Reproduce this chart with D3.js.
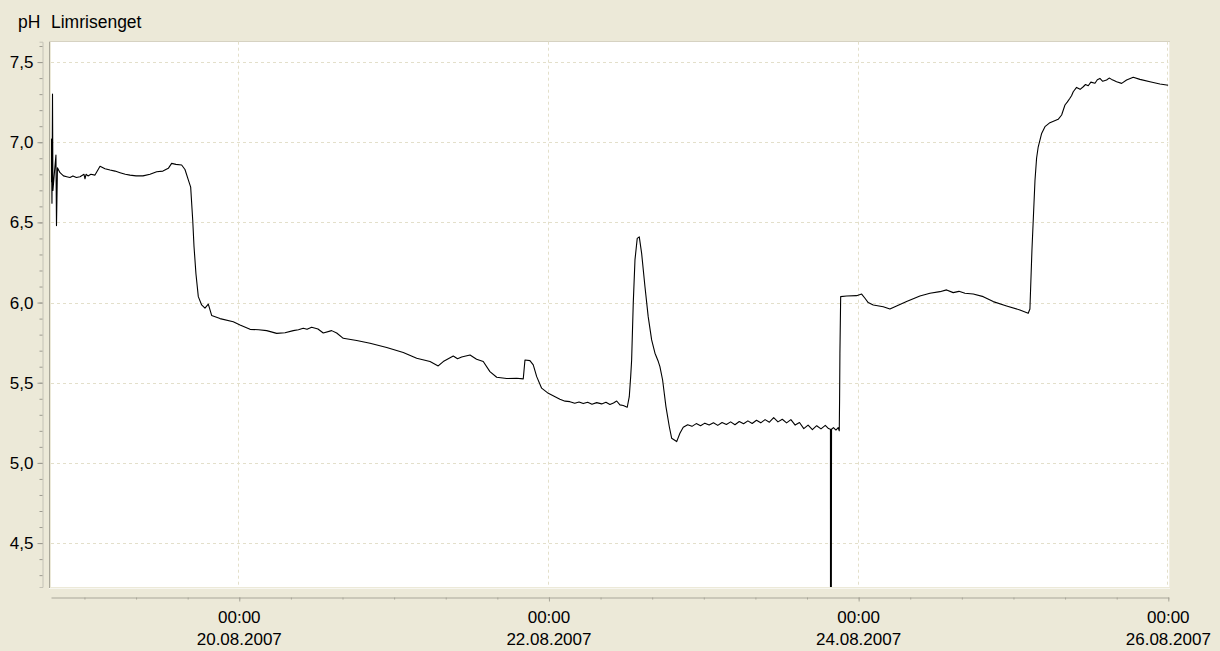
<!DOCTYPE html>
<html><head><meta charset="utf-8">
<script src="https://cdn.jsdelivr.net/npm/d3@7"></script>
<style>
body{margin:0;background:#ECE9D8;}
svg{display:block;font-family:"Liberation Sans",Arial,sans-serif;}
</style>
</head><body><svg id="chart" width="1220" height="651"></svg>
<script>
const unitLabel = "pH";
const seriesName = "Limrisenget";
const times = [
"18.08.2007 18:49","18.08.2007 18:53","18.08.2007 18:58","18.08.2007 19:03","18.08.2007 19:07","18.08.2007 19:22","18.08.2007 19:35","18.08.2007 19:40","18.08.2007 19:49","18.08.2007 20:13",
"18.08.2007 20:45","18.08.2007 21:15","18.08.2007 21:45","18.08.2007 22:13","18.08.2007 22:45","18.08.2007 23:19","18.08.2007 23:56","19.08.2007 00:05","19.08.2007 00:15","19.08.2007 00:33",
"19.08.2007 01:00","19.08.2007 01:38","19.08.2007 02:25","19.08.2007 03:11","19.08.2007 03:58","19.08.2007 04:45","19.08.2007 05:31","19.08.2007 06:20","19.08.2007 07:04","19.08.2007 08:00",
"19.08.2007 09:04","19.08.2007 10:10","19.08.2007 11:12","19.08.2007 12:10","19.08.2007 13:00","19.08.2007 13:31","19.08.2007 14:11","19.08.2007 15:04","19.08.2007 15:35","19.08.2007 16:06",
"19.08.2007 16:28","19.08.2007 16:47","19.08.2007 16:59","19.08.2007 17:17","19.08.2007 17:39","19.08.2007 18:10","19.08.2007 18:41","19.08.2007 19:12","19.08.2007 19:43","19.08.2007 21:01",
"19.08.2007 23:04","20.08.2007 00:07","20.08.2007 01:40","20.08.2007 03:00","20.08.2007 04:15","20.08.2007 05:48","20.08.2007 07:05","20.08.2007 08:22","20.08.2007 09:10","20.08.2007 09:55",
"20.08.2007 10:30","20.08.2007 11:13","20.08.2007 12:12","20.08.2007 13:01","20.08.2007 14:19","20.08.2007 15:06","20.08.2007 16:07","20.08.2007 18:12","20.08.2007 20:16","20.08.2007 22:51",
"21.08.2007 01:25","21.08.2007 03:30","21.08.2007 05:34","21.08.2007 06:50","21.08.2007 07:37","21.08.2007 09:10","21.08.2007 09:50","21.08.2007 10:28","21.08.2007 11:46","21.08.2007 12:47",
"21.08.2007 13:49","21.08.2007 14:51","21.08.2007 15:54","21.08.2007 17:27","21.08.2007 18:59","21.08.2007 20:01","21.08.2007 20:17","21.08.2007 21:03","21.08.2007 21:34","21.08.2007 22:06",
"21.08.2007 22:52","21.08.2007 23:54","22.08.2007 01:42","22.08.2007 02:30","22.08.2007 03:15","22.08.2007 04:00","22.08.2007 04:40","22.08.2007 05:19","22.08.2007 06:00","22.08.2007 06:40",
"22.08.2007 07:24","22.08.2007 08:10","22.08.2007 08:50","22.08.2007 09:27","22.08.2007 10:00","22.08.2007 10:30","22.08.2007 11:00","22.08.2007 11:31","22.08.2007 12:08","22.08.2007 12:27",
"22.08.2007 12:40","22.08.2007 12:49","22.08.2007 13:04","22.08.2007 13:20","22.08.2007 13:41","22.08.2007 14:00","22.08.2007 14:22","22.08.2007 14:53","22.08.2007 15:23","22.08.2007 15:55",
"22.08.2007 16:26","22.08.2007 16:57","22.08.2007 17:12","22.08.2007 17:37","22.08.2007 18:08","22.08.2007 18:39","22.08.2007 19:01","22.08.2007 19:48","22.08.2007 20:18","22.08.2007 20:49",
"22.08.2007 21:30","22.08.2007 22:10","22.08.2007 22:50","22.08.2007 23:30","23.08.2007 00:10","23.08.2007 00:50","23.08.2007 01:30","23.08.2007 02:10","23.08.2007 02:50","23.08.2007 03:30",
"23.08.2007 04:10","23.08.2007 04:50","23.08.2007 05:30","23.08.2007 06:10","23.08.2007 06:50","23.08.2007 07:30","23.08.2007 08:10","23.08.2007 08:50","23.08.2007 09:30","23.08.2007 10:10",
"23.08.2007 10:50","23.08.2007 11:30","23.08.2007 12:10","23.08.2007 12:50","23.08.2007 13:30","23.08.2007 14:10","23.08.2007 14:50","23.08.2007 15:30","23.08.2007 16:10","23.08.2007 16:50",
"23.08.2007 17:30","23.08.2007 18:10","23.08.2007 18:50","23.08.2007 19:20","23.08.2007 19:38","23.08.2007 19:39","23.08.2007 19:43","23.08.2007 19:44","23.08.2007 19:48","23.08.2007 20:06","23.08.2007 20:29",
"23.08.2007 20:50","23.08.2007 21:00","23.08.2007 21:03","23.08.2007 21:06","23.08.2007 21:13","23.08.2007 22:08","23.08.2007 23:41","24.08.2007 00:28","24.08.2007 00:59","24.08.2007 01:29",
"24.08.2007 02:16","24.08.2007 03:49","24.08.2007 04:51","24.08.2007 05:53","24.08.2007 07:26","24.08.2007 09:30","24.08.2007 11:03","24.08.2007 12:36","24.08.2007 13:38","24.08.2007 14:40",
"24.08.2007 15:33","24.08.2007 16:29","24.08.2007 17:46","24.08.2007 19:19","24.08.2007 20:52","24.08.2007 22:56","25.08.2007 01:00","25.08.2007 02:17","25.08.2007 02:33","25.08.2007 02:52",
"25.08.2007 03:20","25.08.2007 03:35","25.08.2007 03:50","25.08.2007 04:22","25.08.2007 04:53","25.08.2007 05:39","25.08.2007 06:56","25.08.2007 07:28","25.08.2007 07:59","25.08.2007 08:20",
"25.08.2007 08:45","25.08.2007 09:00","25.08.2007 09:16","25.08.2007 09:47","25.08.2007 10:20","25.08.2007 10:49","25.08.2007 11:10","25.08.2007 11:35","25.08.2007 12:00","25.08.2007 12:38",
"25.08.2007 13:00","25.08.2007 13:24","25.08.2007 13:50","25.08.2007 14:26","25.08.2007 14:50","25.08.2007 15:13","25.08.2007 15:35","25.08.2007 15:59","25.08.2007 16:46","25.08.2007 17:32",
"25.08.2007 18:34","25.08.2007 19:36","25.08.2007 21:09","25.08.2007 22:42","25.08.2007 23:44","26.08.2007 00:00"
];
const phValues = [
6.75,7.02,6.62,7.30,6.70,6.82,6.92,6.48,6.84,6.81,
6.79,6.785,6.78,6.79,6.78,6.785,6.80,6.772,6.80,6.79,
6.80,6.795,6.85,6.835,6.827,6.82,6.81,6.80,6.795,6.79,
6.79,6.80,6.816,6.82,6.837,6.868,6.862,6.858,6.83,6.765,
6.72,6.515,6.35,6.18,6.037,5.985,5.965,5.99,5.92,5.90,
5.88,5.86,5.833,5.83,5.825,5.808,5.812,5.825,5.83,5.84,
5.833,5.846,5.835,5.81,5.825,5.81,5.777,5.763,5.746,5.72,
5.688,5.653,5.632,5.605,5.632,5.667,5.65,5.66,5.673,5.647,
5.632,5.569,5.534,5.526,5.528,5.524,5.642,5.638,5.611,5.538,
5.466,5.434,5.397,5.385,5.382,5.372,5.380,5.370,5.378,5.366,
5.376,5.368,5.378,5.364,5.374,5.386,5.362,5.358,5.347,5.413,
5.538,5.642,5.995,6.266,6.40,6.41,6.307,6.099,5.912,5.767,
5.684,5.632,5.60,5.517,5.351,5.227,5.154,5.133,5.185,5.222,
5.238,5.228,5.245,5.232,5.248,5.236,5.250,5.234,5.252,5.240,
5.256,5.238,5.258,5.244,5.262,5.246,5.266,5.250,5.270,5.254,
5.282,5.256,5.272,5.250,5.270,5.236,5.252,5.214,5.236,5.208,
5.232,5.212,5.234,5.214,5.21,3.0,5.1,3.0,5.21,5.22,5.205,
5.22,5.20,5.40,5.68,6.037,6.041,6.043,6.053,6.027,6.0,
5.985,5.974,5.96,5.979,6.006,6.041,6.058,6.068,6.079,6.062,
6.07,6.058,6.053,6.037,6.006,5.979,5.954,5.933,5.96,6.33,
6.76,6.90,6.97,7.055,7.097,7.122,7.143,7.17,7.232,7.25,
7.274,7.29,7.315,7.342,7.33,7.346,7.36,7.352,7.375,7.368,
7.39,7.398,7.38,7.388,7.40,7.392,7.385,7.377,7.367,7.388,
7.405,7.392,7.377,7.363,7.357,7.355
];
const yTickLabels = [4.5,5.0,5.5,6.0,6.5,7.0,7.5];
const xLabelTimes = ["20.08.2007 00:00","22.08.2007 00:00","24.08.2007 00:00","26.08.2007 00:00"];
const xDomain = ["18.08.2007 18:49","26.08.2007 00:00"];
const yDomain = [4.226, 7.627];

const parse = d3.timeParse("%d.%m.%Y %H:%M");
const data = times.map((t,i)=>({t:parse(t), v:phValues[i]}));

const L=51, R=1168.3, T=41.7, B=587;
const x = d3.scaleTime().domain(xDomain.map(parse)).range([L,R]);
const y = d3.scaleLinear().domain(yDomain).range([B,T]);

const svg = d3.select("#chart");
svg.append("rect").attr("width",1220).attr("height",651).attr("fill","#ECE9D8");

// title
svg.append("text").attr("x",18).attr("y",28).attr("font-size",17.5).attr("fill","#000").text(unitLabel);
svg.append("text").attr("x",51).attr("y",28).attr("font-size",17.5).attr("fill","#000").text(seriesName);

// plot area
svg.append("rect").attr("x",L).attr("y",T).attr("width",R-L+1).attr("height",B-T).attr("fill","#fff");
svg.append("line").attr("x1",49.5).attr("x2",49.5).attr("y1",41).attr("y2",589).attr("stroke","#a8a699");
svg.append("line").attr("x1",49).attr("x2",1170).attr("y1",41.5).attr("y2",41.5).attr("stroke","#d6d2c2");
svg.append("line").attr("x1",49).attr("x2",1170).attr("y1",588.5).attr("y2",588.5).attr("stroke","#f7f6f0");

// gridlines
const grid = svg.append("g").attr("stroke","#e3dfca").attr("stroke-dasharray","3,3");
yTickLabels.forEach(v=>{
  grid.append("line").attr("x1",L).attr("x2",R).attr("y1",Math.round(y(v))+0.5).attr("y2",Math.round(y(v))+0.5);
});
xLabelTimes.map(parse).forEach(d=>{
  grid.append("line").attr("x1",Math.round(x(d))-0.5).attr("x2",Math.round(x(d))-0.5).attr("y1",T).attr("y2",B);
});

// line
svg.append("clipPath").attr("id","clip").append("rect").attr("x",L).attr("y",T).attr("width",R-L).attr("height",B-T);
const line = d3.line().x(d=>x(d.t)).y(d=>y(d.v));
svg.append("path").datum(data).attr("clip-path","url(#clip)")
  .attr("fill","none").attr("stroke","#000").attr("stroke-width",1.1).attr("stroke-linejoin","round").attr("d",line);

// y axis
const fmt = d3.formatLocale({decimal:",",thousands:".",grouping:[3],currency:["",""]}).format(".1f");
const yMinor = d3.range(43,77).map(i=>i/10);
const yAxisG = svg.append("g").attr("transform","translate(42.5,0)");
yAxisG.call(d3.axisLeft(y).tickValues(yMinor).tickSize(3).tickFormat(""));
yAxisG.selectAll("path").attr("stroke","#c4c2b6");
yAxisG.selectAll("line").attr("stroke","#9c9a90");
const yMajG = svg.append("g").attr("transform","translate(42.5,0)");
yMajG.call(d3.axisLeft(y).tickValues(yTickLabels).tickSize(5).tickPadding(4).tickFormat(fmt));
yMajG.select(".domain").remove();
yMajG.selectAll("line").attr("stroke","#9c9a90");
yMajG.selectAll("text").attr("font-size",17).attr("font-family","Liberation Sans, Arial, sans-serif").attr("fill","#000");

// x axis
const xMinor = d3.timeHour.every(8).range(parse("19.08.2007 00:00"), parse("26.08.2007 00:01"));
const xAxisG = svg.append("g").attr("transform","translate(0,597.5)");
xAxisG.call(d3.axisBottom(x).tickValues(xMinor).tickSize(2).tickSizeOuter(0).tickFormat(""));
xAxisG.select(".domain").attr("stroke","#a8a699");
xAxisG.selectAll("line").attr("stroke","#a8a699");
const xMajG = svg.append("g").attr("transform","translate(0,597.5)");
xMajG.call(d3.axisBottom(x).tickValues(xLabelTimes.map(parse)).tickSize(4).tickFormat(""));
xMajG.select(".domain").remove();
xMajG.selectAll("line").attr("stroke","#a8a699");
const tf = d3.timeFormat("%H:%M"), df = d3.timeFormat("%d.%m.%Y");
xLabelTimes.map(parse).forEach(d=>{
  const t = svg.append("text").attr("text-anchor","middle").attr("font-size",17).attr("fill","#000");
  t.append("tspan").attr("x",x(d)).attr("y",623).text(tf(d));
  t.append("tspan").attr("x",x(d)).attr("y",645).text(df(d));
});
</script>
</body></html>
